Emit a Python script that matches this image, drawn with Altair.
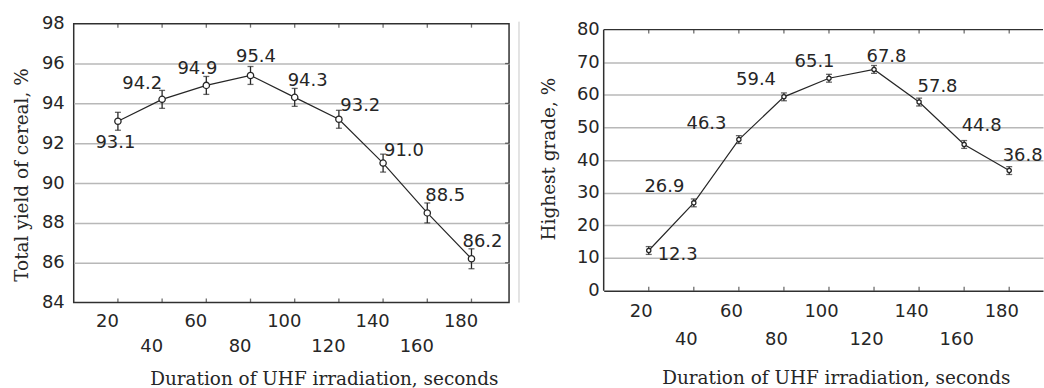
import altair as alt
import pandas as pd

# Duration of UHF irradiation, seconds
duration = [20, 40, 60, 80, 100, 120, 140, 160, 180]

# Total yield of cereal, % (with error half-widths)
yield_total = [93.1, 94.2, 94.9, 95.4, 94.3, 93.2, 91.0, 88.5, 86.2]
yield_err = [0.45, 0.45, 0.45, 0.45, 0.45, 0.45, 0.45, 0.5, 0.5]

# Highest grade, % (with error half-widths)
grade_high = [12.3, 26.9, 46.3, 59.4, 65.1, 67.8, 57.8, 44.8, 36.8]
grade_err = [1.2, 1.2, 1.2, 1.2, 1.2, 1.2, 1.2, 1.2, 1.2]

# Axis ticks
x_ticks = [20, 40, 60, 80, 100, 120, 140, 160, 180]
x_second_row = [40, 80, 120, 160]
yield_ticks = [84, 86, 88, 90, 92, 94, 96, 98]
grade_ticks = [0, 10, 20, 30, 40, 50, 60, 70, 80]

# Value-label nudges in pixels (dx, dy)
yield_label_dx = [-2.5, -20, -9, 5.5, 13, 21.5, 21, 18, 11]
yield_label_dy = [21.5, -15, -16.5, -18.5, -16.5, -13.5, -12.5, -16.5, -16.5]
grade_label_dx = [29, -29.5, -32.5, -28, -14.5, 12.5, 18.5, 17.5, 13.5]
grade_label_dy = [5, -16, -16, -16.5, -16.5, -12.5, -15.5, -18.5, -15]

X_TITLE = "Duration of UHF irradiation, seconds"
SANS = "DejaVu Sans"
SERIF = "DejaVu Serif"
INK = "#262626"
FRAME = "#303030"
GRID = "#b8b8b8"


def panel(values, errors, dxs, dys, y_ticks, y_max, width, height, x_max,
          y_title, y_title_x, y_title_y, y_label_pad,
          x_title_x, x_title_y, x_label_pad, x_line_height, x_label_offset,
          point_size, framed):
    df = pd.DataFrame({
        "t": duration,
        "v": values,
        "lo": [v - e for v, e in zip(values, errors)],
        "hi": [v + e for v, e in zip(values, errors)],
        "label": [f"{v:.1f}" for v in values],
    })
    lo_y, hi_y = y_ticks[0], y_ticks[-1]
    edge_test = f"datum.value == {lo_y} || datum.value == {hi_y}"

    x_scale = alt.Scale(domain=[0, x_max], nice=False, zero=False)
    y_scale = alt.Scale(domain=[lo_y, y_max], nice=False, zero=False)

    x_axis = alt.Axis(
        values=x_ticks, title=X_TITLE, grid=False, ticks=False, tickSize=0,
        domain=not framed, domainColor=FRAME, domainWidth=1.5,
        labelExpr=f"indexof({x_second_row}, datum.value) >= 0 ? ['', datum.label] : datum.label",
        labelPadding=x_label_pad, labelLineHeight=x_line_height,
        labelOffset=x_label_offset, labelOverlap=False, labelBaseline="top",
        labelFont=SANS, labelFontSize=18, labelColor=INK,
        titleFont=SERIF, titleFontSize=18.5, titleFontWeight="normal",
        titleColor=INK, titleX=x_title_x, titleY=x_title_y,
        titleBaseline="middle", titleAlign="center",
    )
    y_axis = alt.Axis(
        values=y_ticks, title=y_title, grid=True,
        gridColor={"condition": {"test": edge_test, "value": "transparent"}, "value": GRID},
        gridWidth=1.5, ticks=False, tickSize=0, domain=False,
        labelPadding=y_label_pad, labelFont=SANS, labelFontSize=18,
        labelColor=INK, labelBaseline="middle",
        titleFont=SERIF, titleFontSize=18.5, titleFontWeight="normal",
        titleColor=INK, titleAngle=270, titleX=y_title_x, titleY=y_title_y,
        titleBaseline="middle", titleAlign="center",
    )

    def X(field="t"):
        return alt.X(f"{field}:Q", scale=x_scale, axis=x_axis)

    def Y(field):
        return alt.Y(f"{field}:Q", scale=y_scale, axis=y_axis)

    base = alt.Chart(df)
    line = base.mark_line(color=INK, strokeWidth=1.2).encode(x=X(), y=Y("v"))
    bars = base.mark_rule(color=INK, strokeWidth=1.3).encode(
        x=X(), y=Y("lo"), y2="hi:Q")
    caps_lo = base.mark_tick(orient="horizontal", size=6, thickness=1.3,
                             color=INK).encode(x=X(), y=Y("lo"))
    caps_hi = base.mark_tick(orient="horizontal", size=6, thickness=1.3,
                             color=INK).encode(x=X(), y=Y("hi"))
    points = base.mark_point(shape="circle", filled=False, fill="white",
                             fillOpacity=1, color=INK, strokeWidth=1.3,
                             size=point_size, opacity=1).encode(x=X(), y=Y("v"))

    # inward ticks on the top and bottom edges of the frame
    edges = base.transform_calculate(top=f"{hi_y}", bottom=f"{lo_y}")
    top_ticks = edges.mark_tick(orient="vertical", size=4, thickness=1.3,
                                color=FRAME, yOffset=2).encode(x=X(), y=Y("top"))
    bottom_ticks = edges.mark_tick(orient="vertical", size=4, thickness=1.3,
                                   color=FRAME, yOffset=-2).encode(x=X(), y=Y("bottom"))

    labels = []
    for i in range(len(duration)):
        labels.append(
            base.transform_filter(alt.datum.t == duration[i])
            .mark_text(font=SANS, fontSize=18, color=INK, align="center",
                       baseline="middle", dx=dxs[i], dy=dys[i], clip=True)
            .encode(x=X(), y=Y("v"), text="label:N")
        )

    layers = [line, bars, caps_lo, caps_hi, points, top_ticks, bottom_ticks] + labels
    return layers, Y


left_layers, left_Y = panel(
    yield_total, yield_err, yield_label_dx, yield_label_dy, yield_ticks, 98,
    width=437, height=280, x_max=197,
    y_title="Total yield of cereal, %", y_title_x=-52.5, y_title_y=151.5,
    y_label_pad=9.5,
    x_title_x=251, x_title_y=76.5, x_label_pad=10, x_line_height=25,
    x_label_offset=-11, point_size=40, framed=True,
)

# inward ticks on the right edge of the left frame
right_edge = alt.Chart(pd.DataFrame({"v": yield_ticks[1:-1]})).mark_tick(
    orient="horizontal", size=4, thickness=1.3, color=FRAME
).encode(y=left_Y("v"), x=alt.value(437 - 2))

# thin separator between the two figures
separator = alt.Chart(pd.DataFrame({"v": [0]})).mark_rule(
    color="#c8c8c8", strokeWidth=1
).encode(x=alt.value(447), y=alt.value(-2), y2=alt.value(280))

left = alt.layer(*left_layers, right_edge, separator).properties(
    width=437, height=280,
    view=alt.ViewBackground(stroke=FRAME, strokeWidth=1.5),
)

right_layers, right_Y = panel(
    grade_high, grade_err, grade_label_dx, grade_label_dy, grade_ticks, 81.83,
    width=441, height=268, x_max=195,
    y_title="Highest grade, %", y_title_x=-55.5, y_title_y=135.5,
    y_label_pad=4.5,
    x_title_x=233, x_title_y=87.5, x_label_pad=12, x_line_height=28,
    x_label_offset=-8, point_size=18, framed=False,
)

# left and top edges of the right frame (its right side runs past the page)
frame_df = pd.DataFrame({"lo": [grade_ticks[0]], "v": [grade_ticks[-1]]})
left_edge = alt.Chart(frame_df).mark_rule(color=FRAME, strokeWidth=1.5).encode(
    x=alt.value(0), y=right_Y("lo"), y2="v:Q")
top_edge = alt.Chart(frame_df).mark_rule(color=FRAME, strokeWidth=1.5).encode(
    x=alt.value(0), x2=alt.value(441), y=right_Y("v"))

right = alt.layer(*right_layers, left_edge, top_edge).properties(
    width=441, height=268,
    view=alt.ViewBackground(stroke="transparent"),
)

chart = alt.hconcat(left, right, spacing=18).properties(
    padding={"left": 11, "top": 13, "right": 0, "bottom": 0},
    background="white",
).configure_view(strokeWidth=0)

chart.save("out.html", embed_options={"renderer": "svg", "actions": False})
